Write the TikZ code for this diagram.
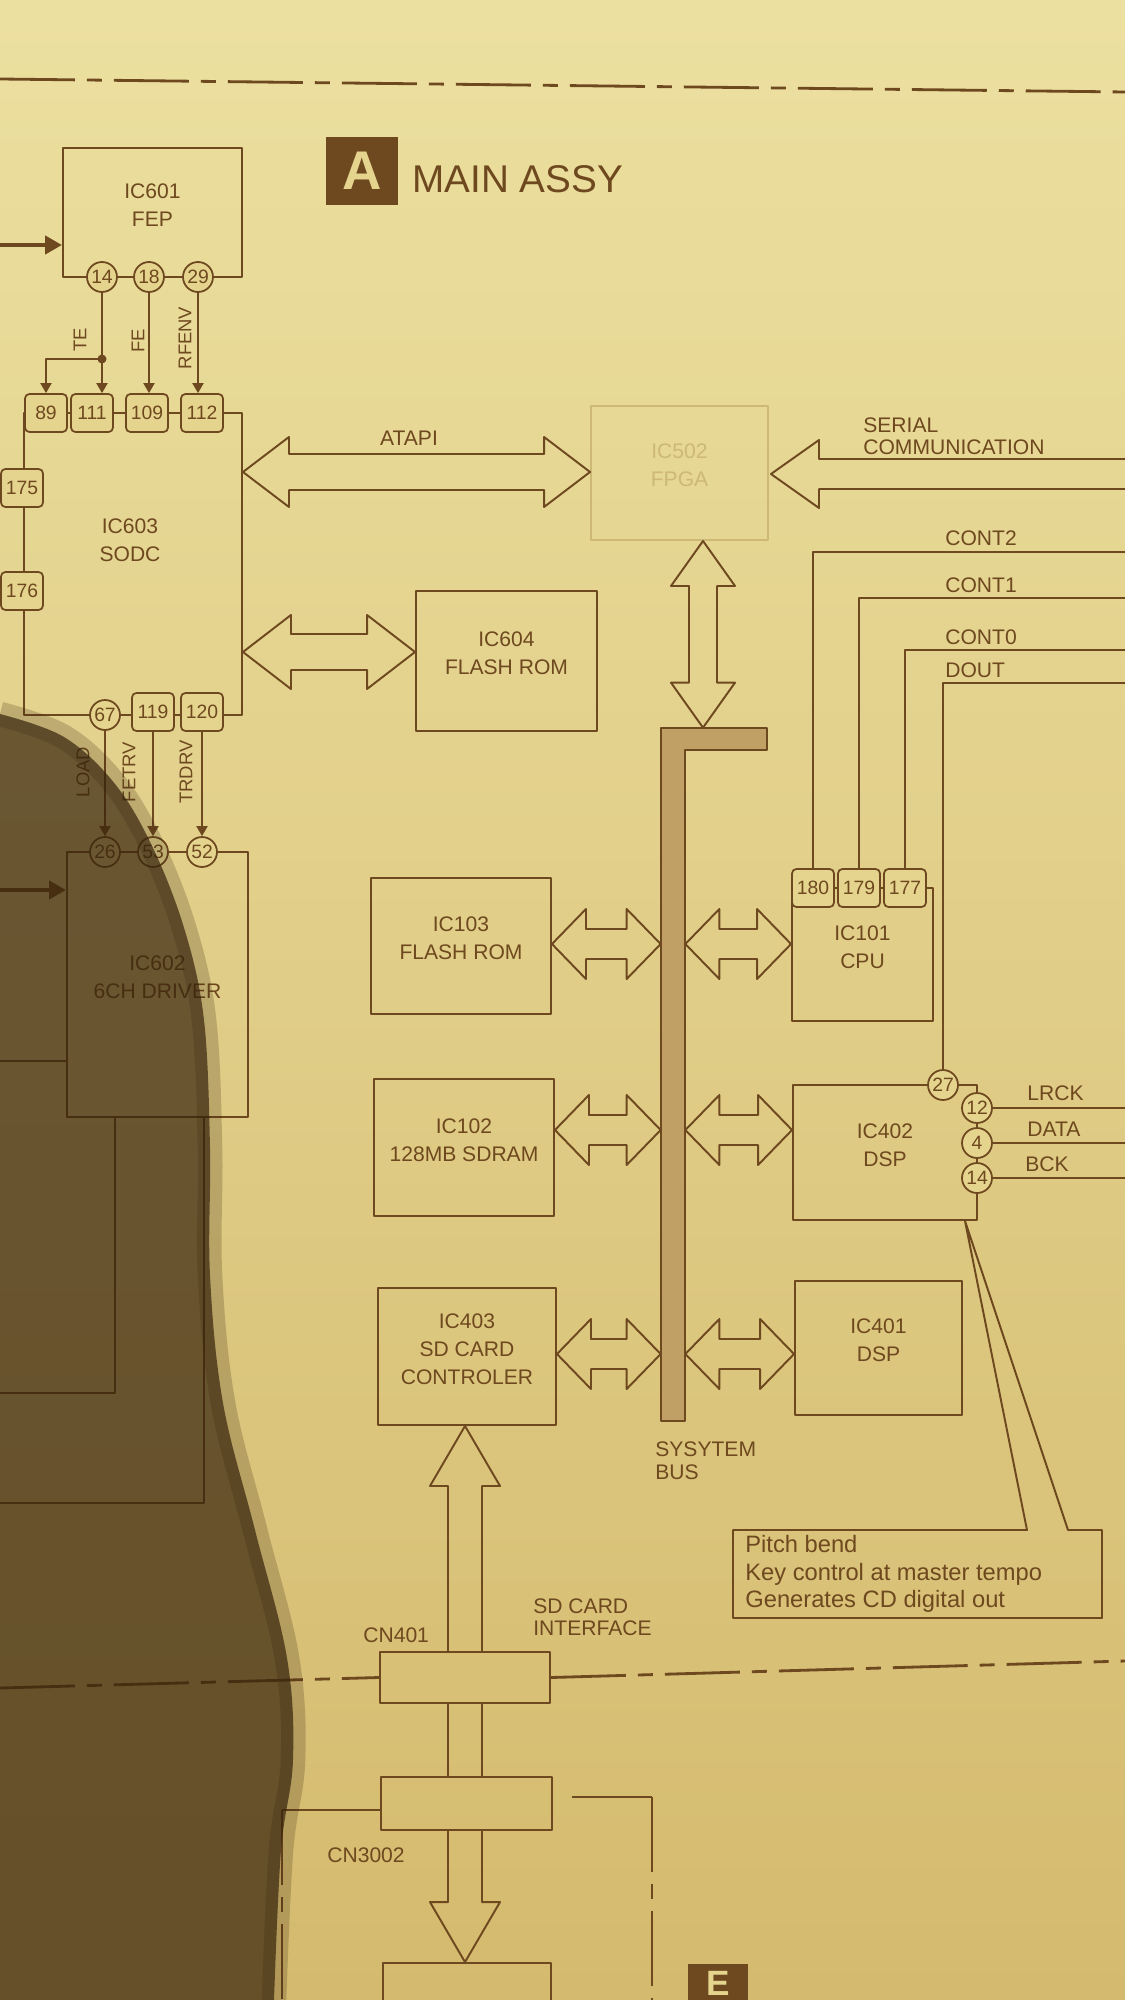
\documentclass[tikz,border=0pt]{standalone}
\usepackage{fontspec}
\setmainfont{Liberation Sans}
\usetikzlibrary{arrows.meta,calc,fit}
\definecolor{ink}{RGB}{110,72,30}
\definecolor{paper}{RGB}{229,212,142}
\definecolor{papertop}{RGB}{236,224,160}
\definecolor{paperbot}{RGB}{212,186,110}
\definecolor{faded}{RGB}{205,184,118}
\definecolor{busfill}{RGB}{192,160,100}
\definecolor{shadowc}{RGB}{55,35,12}
\newcommand\hollowH[5]{%
  \draw[hollow] (#1) -- ($(#1)+(#3,-#4)$) -- ($(#1)+(#3,-#5)$) -- ($(#2)+(-#3,-#5)$) -- ($(#2)+(-#3,-#4)$) -- (#2) -- ($(#2)+(-#3,#4)$) -- ($(#2)+(-#3,#5)$) -- ($(#1)+(#3,#5)$) -- ($(#1)+(#3,#4)$) -- cycle;}
\newcommand\hollowV[5]{%
  \draw[hollow] (#1) -- ($(#1)+(#4,#3)$) -- ($(#1)+(#5,#3)$) -- ($(#2)+(#5,-#3)$) -- ($(#2)+(#4,-#3)$) -- (#2) -- ($(#2)+(-#4,-#3)$) -- ($(#2)+(-#5,-#3)$) -- ($(#1)+(-#5,#3)$) -- ($(#1)+(-#4,#3)$) -- cycle;}
\begin{document}
\begin{tikzpicture}[x=0.02cm,y=-0.02cm,line join=round,
  wire/.style={draw=ink,line width=1.1pt},
  ic/.style={draw=ink,line width=1.1pt,inner sep=0pt,text=ink,align=center,font=\fontsize{12}{16}\selectfont},
  pinc/.style={circle,draw=ink,line width=1pt,fill=paper,minimum size=0.6cm,inner sep=0pt,text=ink,font=\fontsize{11}{12}\selectfont},
  pinb/.style={rectangle,rounded corners=2.5pt,draw=ink,line width=1pt,fill=paper,minimum width=0.84cm,minimum height=0.76cm,inner sep=0pt,text=ink,font=\fontsize{11}{12}\selectfont},
  lbl/.style={text=ink,font=\fontsize{12}{14}\selectfont,inner sep=0pt},
  vlbl/.style={text=ink,font=\fontsize{10.5}{12}\selectfont,rotate=90,inner sep=0pt},
  sig/.style={draw=ink,line width=1.1pt,-{Triangle[length=0.2cm,width=0.22cm]}},
  hollow/.style={draw=ink,line width=1.1pt},
  border/.style={draw=ink,line width=1.6pt,dash pattern=on 1.5cm off 0.24cm on 0.3cm off 0.24cm},
  thickin/.style={draw=ink,line width=2.5pt,-{Triangle[length=0.34cm,width=0.36cm]}}]
\useasboundingbox (0,0) rectangle (1125,2000);
\clip (0,0) rectangle (1125,2000);
\shade[top color=papertop,bottom color=paperbot] (0,0) rectangle (1125,2000);

% section borders
\coordinate (bt1) at (0,79); \coordinate (bt2) at (1125,92);
\draw[border] (bt1) -- (bt2);

% title
\node[fill=ink,text=paper,minimum width=1.44cm,minimum height=1.38cm,inner sep=0pt,font=\bfseries\fontsize{31}{31}\selectfont] (abox) at (362,171) {A};
\node[lbl,anchor=west,font=\fontsize{22}{24}\selectfont] (title) at (412,179) {MAIN ASSY};

% IC601
\node[ic,fit={(63,148)(242,277)}] (ic601) {IC601\\FEP};
\node[pinc] (p14) at (102,277) {14};
\node[pinc] (p18) at (149,277) {18};
\node[pinc] (p29) at (198,277) {29};
\coordinate (in1) at (0,245);
\draw[thickin] (in1) -- (in1 -| ic601.west);

% IC603
\node[ic,fit={(24,413)(242,715)}] (ic603) {};
\node[lbl,align=center,font=\fontsize{12}{16}\selectfont] (ic603t) at (130,540) {IC603\\SODC};
\node[pinb] (p89) at (46,413) {89};
\node[pinb] (p111) at (92,413) {111};
\node[pinb] (p109) at (147,413) {109};
\node[pinb] (p112) at (202,413) {112};
\node[pinb] (p175) at (22,488) {175};
\node[pinb] (p176) at (22,591) {176};
\node[pinc] (p67) at (105,715) {67};
\node[pinb] (p119) at (153,712) {119};
\node[pinb] (p120) at (202,712) {120};

\draw[sig] (p14.south) -- (p14.south |- p111.north);
\draw[sig] (p18.south) -- (p18.south |- p109.north);
\draw[sig] (p29.south) -- (p29.south |- p112.north);
\coordinate (yte) at (0,359);
\coordinate (jte) at (p14.south |- yte);
\fill[ink] (jte) circle (0.09cm);
\draw[sig] (jte) -| (p89.north);
\node[vlbl] (lte) at (80,340) {TE};
\node[vlbl] (lfe) at (138,341) {FE};
\node[vlbl] (lrf) at (185,338) {RFENV};

% IC602
\node[ic,fit={(67,852)(248,1117)}] (ic602) {IC602\\6CH DRIVER};
\node[pinc] (p26) at (105,852) {26};
\node[pinc] (p53) at (153,852) {53};
\node[pinc] (p52) at (202,852) {52};
\draw[sig] (p67.south) -- (p26.north);
\draw[sig] (p119.south) -- (p53.north);
\draw[sig] (p120.south) -- (p52.north);
\node[vlbl] (lload) at (83,772) {LOAD};
\node[vlbl] (lfet) at (129,772) {FETRV};
\node[vlbl] (ltrd) at (186,772) {TRDRV};
\coordinate (in2) at (0,890);
\draw[thickin] (in2) -- (in2 -| ic602.west);
\coordinate (l3) at (0,1061);
\draw[wire] (l3) -- (l3 -| ic602.west);
\coordinate (d1) at (115,1393); \coordinate (d1e) at (0,1393);
\draw[wire] (d1 |- ic602.south) -- (d1) -- (d1e);
\coordinate (d2) at (204,1503); \coordinate (d2e) at (0,1503);
\draw[wire] (d2 |- ic602.south) -- (d2) -- (d2e);

% FPGA and ATAPI
\node[ic,draw=faded,text=faded,fit={(591,406)(768,540)}] (fpga) {IC502\\FPGA};
\coordinate (yat) at (0,472);
\coordinate (atl) at (ic603.east |- yat);
\coordinate (atr) at (fpga.west |- yat);
\hollowH{atl}{atr}{46}{35}{18}
\node[lbl] (latapi) at (409,438) {ATAPI};

% serial
\coordinate (sr) at (1125,474);
\coordinate (stip) at ($(fpga.east |- sr)+(2,0)$);
\draw[hollow] (1125,459) -- (819,459) -- (819,440) -- (stip) -- (819,508) -- (819,489) -- (1125,489);
\node[lbl,anchor=west,align=left,font=\fontsize{12}{12.5}\selectfont] (lser) at (863,436) {SERIAL\\COMMUNICATION};

% IC604
\node[ic,fit={(416,591)(597,731)}] (ic604) {IC604\\FLASH ROM};
\coordinate (y64) at (0,652);
\coordinate (fl1) at (ic603.east |- y64);
\coordinate (fl2) at (ic604.west |- y64);
\hollowH{fl1}{fl2}{48}{37}{18}

% system bus
\node[inner sep=0pt,fit={(661,728)(685,1421)}] (bus) {};
\node[inner sep=0pt,fit={(661,728)(767,750)}] (buscap) {};
\filldraw[fill=busfill,draw=ink,line width=1.1pt] (buscap.north west) -- (buscap.north east) -- (buscap.south east) -- (buscap.south -| bus.east) -- (bus.south east) -- (bus.south west) -- cycle;
\node[lbl,anchor=west,align=left,font=\fontsize{12}{13}\selectfont] (lbus) at (655,1461) {SYSYTEM\\BUS};
\coordinate (xv) at (703,0);
\coordinate (vt) at (xv |- fpga.south);
\coordinate (vb) at (xv |- buscap.north);
\hollowV{vt}{vb}{45}{32}{14}

% left column
\node[ic,fit={(371,878)(551,1014)}] (ic103) {IC103\\FLASH ROM};
\node[ic,fit={(374,1079)(554,1216)}] (ic102) {IC102\\128MB SDRAM};
\node[ic,fit={(378,1288)(556,1425)}] (ic403) {IC403\\SD CARD\\CONTROLER};
% right column
\node[ic,fit={(792,888)(933,1021)}] (ic101) {IC101\\CPU};
\node[ic,fit={(793,1085)(977,1220)}] (ic402) {IC402\\DSP};
\node[ic,fit={(795,1281)(962,1415)}] (ic401) {IC401\\DSP};

\coordinate (yb1) at (0,944); \coordinate (yb2) at (0,1130); \coordinate (yb3) at (0,1354);
\coordinate (a1l) at (ic103.east |- yb1); \coordinate (a1r) at (bus.west |- yb1);
\coordinate (a2l) at (ic102.east |- yb2); \coordinate (a2r) at (bus.west |- yb2);
\coordinate (a3l) at (ic403.east |- yb3); \coordinate (a3r) at (bus.west |- yb3);
\coordinate (b1l) at (bus.east |- yb1); \coordinate (b1r) at (ic101.west |- yb1);
\coordinate (b2l) at (bus.east |- yb2); \coordinate (b2r) at (ic402.west |- yb2);
\coordinate (b3l) at (bus.east |- yb3); \coordinate (b3r) at (ic401.west |- yb3);
\hollowH{a1l}{a1r}{34}{35}{15}
\hollowH{a2l}{a2r}{34}{35}{15}
\hollowH{a3l}{a3r}{34}{35}{15}
\hollowH{b1l}{b1r}{34}{35}{15}
\hollowH{b2l}{b2r}{34}{35}{15}
\hollowH{b3l}{b3r}{34}{35}{15}

% CPU pins and CONT lines
\node[pinb] (p180) at (813,888) {180};
\node[pinb] (p179) at (859,888) {179};
\node[pinb] (p177) at (905,888) {177};
\node[pinc] (p27) at (943,1085) {27};
\node[pinc] (p12) at (977,1108) {12};
\node[pinc] (p4) at (977,1143) {4};
\node[pinc] (p14b) at (977,1178) {14};
\coordinate (c2) at (1125,552); \coordinate (c1) at (1125,598);
\coordinate (c0) at (1125,650); \coordinate (cd) at (1125,683);
\draw[wire] (c2) -| (p180.north);
\draw[wire] (c1) -| (p179.north);
\draw[wire] (c0) -| (p177.north);
\draw[wire] (cd) -| (p27.north);
\node[lbl,anchor=west] (lc2) at (945,538) {CONT2};
\node[lbl,anchor=west] (lc1) at (945,585) {CONT1};
\node[lbl,anchor=west] (lc0) at (945,637) {CONT0};
\node[lbl,anchor=west] (ldout) at (945,670) {DOUT};
\coordinate (o1) at (1125,1108); \coordinate (o2) at (1125,1143); \coordinate (o3) at (1125,1178);
\draw[wire] (p12.east) -- (o1);
\draw[wire] (p4.east) -- (o2);
\draw[wire] (p14b.east) -- (o3);
\node[lbl,anchor=west] (llrck) at (1027,1093) {LRCK};
\node[lbl,anchor=west] (ldata) at (1027,1129) {DATA};
\node[lbl,anchor=west] (lbck) at (1025,1164) {BCK};

% callout note
\coordinate (apex) at (965,1221);
\coordinate (n1) at (733,1530); \coordinate (n2) at (1027,1530);
\coordinate (n3) at (1068,1530); \coordinate (n4) at (1102,1530);
\coordinate (n5) at (1102,1618); \coordinate (n6) at (733,1618);
\draw[wire] (n1) -- (n2) -- (apex) -- (n3) -- (n4) -- (n5) -- (n6) -- cycle;
\node[lbl,anchor=west,align=left,font=\fontsize{13.5}{15.5}\selectfont] (note) at (745,1574) {Pitch bend\\Key control at master tempo\\Generates CD digital out};

% SD card path
\node[ic,fit={(380,1652)(550,1703)}] (cn401) {};
\node[ic,fit={(381,1777)(552,1830)}] (cn3002) {};
\node[ic,fit={(383,1963)(551,2040)}] (ebox) {};
\coordinate (sdtip) at (cn401.north |- ic403.south);
\draw[hollow] ($(cn401.north)+(-17,0)$) -- ($(sdtip)+(-17,60)$) -- ($(sdtip)+(-35,60)$) -- (sdtip) -- ($(sdtip)+(35,60)$) -- ($(sdtip)+(17,60)$) -- ($(cn401.north)+(17,0)$);
\draw[wire] ($(cn401.south)+(-17,0)$) -- ($(cn401.south |- cn3002.north)+(-17,0)$);
\draw[wire] ($(cn401.south)+(17,0)$) -- ($(cn401.south |- cn3002.north)+(17,0)$);
\coordinate (sdbot) at (cn401.south |- ebox.north);
\coordinate (sdtop) at (cn401.south |- cn3002.south);
\draw[hollow] ($(sdtop)+(-17,0)$) -- ($(sdbot)+(-17,-60)$) -- ($(sdbot)+(-35,-60)$) -- (sdbot) -- ($(sdbot)+(35,-60)$) -- ($(sdbot)+(17,-60)$) -- ($(sdtop)+(17,0)$);
\node[lbl,anchor=west] (lcn401) at (363,1635) {CN401};
\node[lbl,anchor=west] (lcn3002) at (327,1855) {CN3002};
\node[lbl,anchor=west,align=left,font=\fontsize{12}{12.5}\selectfont] (lsd) at (533,1617) {SD CARD\\INTERFACE};

% lower border and E frame
\coordinate (bb1) at (0,1688); \coordinate (bb2) at (1125,1661);
\draw[border] (bb1) -- (cn401.west);
\draw[border] (cn401.east) -- (bb2);
\coordinate (fl) at (282,1810); \coordinate (flb) at (282,2010);
\coordinate (fr) at (652,1797); \coordinate (frb) at (652,2010);
\coordinate (frs) at (572,1797);
\draw[wire] (cn3002.west |- fl) -- (fl);
\draw[border] (fl) -- (flb);
\draw[wire] (frs) -- (fr);
\draw[border] (fr) -- (frb);
\fill[ink] (688,1964) rectangle (748,2010);
\node[text=paper,inner sep=0pt,font=\bfseries\fontsize{20}{20}\selectfont] (ebadge) at (718,1983) {E};

% photo shadow
\fill[shadowc,opacity=0.7] plot[smooth,tension=0.6] coordinates {(0,714) (64,737) (115,784) (153,848) (185,931) (204,1020) (210,1148) (210,1275) (223,1403) (255,1530) (287,1658) (293,1760) (281,1850) (274,2000)} -- (0,2000) -- cycle;
\draw[shadowc,opacity=0.22,line width=14pt] plot[smooth,tension=0.6] coordinates {(0,714) (64,737) (115,784) (153,848) (185,931) (204,1020) (210,1148) (210,1275) (223,1403) (255,1530) (287,1658) (293,1760) (281,1850) (274,2000)};
\end{tikzpicture}
\end{document}
